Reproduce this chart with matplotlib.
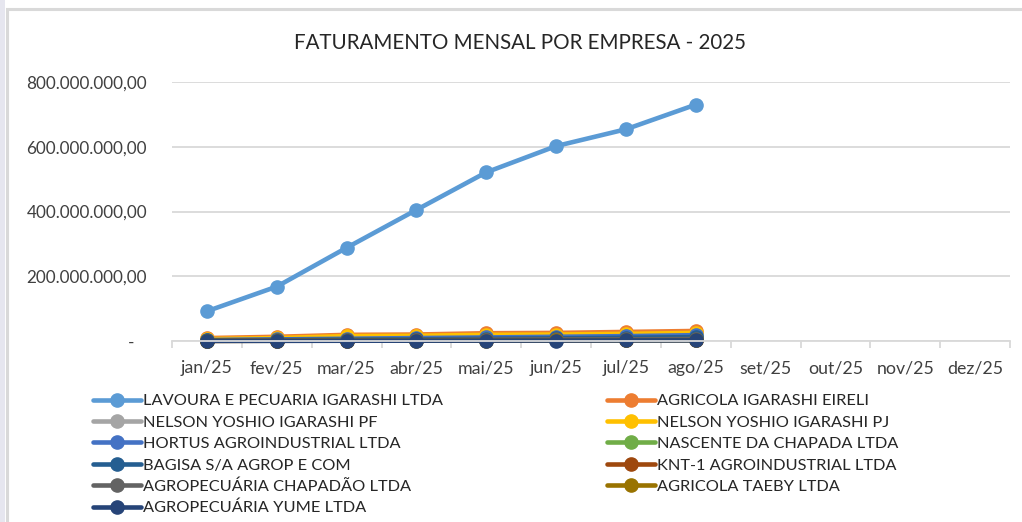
import numpy as np
import matplotlib.pyplot as plt
from matplotlib.patches import Rectangle
from matplotlib.ticker import FixedLocator, FuncFormatter

# Dados (em reais)
meses = ['jan/25', 'fev/25', 'mar/25', 'abr/25', 'mai/25', 'jun/25',
         'jul/25', 'ago/25', 'set/25', 'out/25', 'nov/25', 'dez/25']

empresas = ['LAVOURA E PECUARIA IGARASHI LTDA', 'AGRICOLA IGARASHI EIRELI',
            'NELSON YOSHIO IGARASHI PF', 'NELSON YOSHIO IGARASHI PJ',
            'HORTUS AGROINDUSTRIAL LTDA', 'NASCENTE DA CHAPADA LTDA',
            'BAGISA S/A AGROP E COM', 'KNT-1 AGROINDUSTRIAL LTDA',
            'AGROPECUÁRIA CHAPADÃO LTDA', 'AGRICOLA TAEBY LTDA',
            'AGROPECUÁRIA YUME LTDA']

lavoura = [92e6, 168e6, 288e6, 405e6, 521e6, 602e6, 654e6, 730e6]
agricola_eireli = [9e6, 13e6, 19e6, 20e6, 24e6, 25e6, 28e6, 31e6]
nelson_pf = [1.0e6, 1.5e6, 2.0e6, 2.0e6, 2.5e6, 2.5e6, 3.0e6, 3.0e6]
nelson_pj = [6e6, 9e6, 15e6, 16e6, 19e6, 20e6, 22e6, 25e6]
hortus = [3e6, 5e6, 7e6, 9e6, 11e6, 13e6, 15e6, 18e6]
nascente = [1e6, 2e6, 3e6, 4e6, 5e6, 6e6, 7e6, 8e6]
bagisa = [2e6, 3e6, 4e6, 5e6, 7e6, 8e6, 10e6, 12e6]
knt1 = [0.5e6, 1.0e6, 1.5e6, 2.0e6, 2.5e6, 3.0e6, 3.5e6, 4.0e6]
chapadao = [1e6, 2e6, 3e6, 3e6, 4e6, 5e6, 5e6, 6e6]
taeby = [0.5e6, 0.8e6, 1.0e6, 1.2e6, 1.5e6, 1.8e6, 2.0e6, 2.2e6]
yume = [0.3e6, 0.5e6, 0.8e6, 1.0e6, 1.2e6, 1.5e6, 1.8e6, 2.0e6]

series = [lavoura, agricola_eireli, nelson_pf, nelson_pj, hortus, nascente,
          bagisa, knt1, chapadao, taeby, yume]

cores = ['#5B9BD5', '#ED7D31', '#A5A5A5', '#FFC000', '#4472C4', '#70AD47',
         '#255E91', '#9E480E', '#636363', '#997300', '#264478']

yticks = [0, 200e6, 400e6, 600e6, 800e6]

plt.rcParams['font.family'] = ['Lato', 'DejaVu Sans']

fig = plt.figure(figsize=(10.22, 5.22), dpi=100)

# moldura da área do gráfico
fig.patches.append(Rectangle((0, 0), 5 / 1022, 1, transform=fig.transFigure,
                             facecolor='#e6e6ef', edgecolor='none', zorder=-2))
fig.patches.append(Rectangle((6.5 / 1022, -0.1), 1.2, (513.5 + 52.2) / 522,
                             transform=fig.transFigure, facecolor='white',
                             edgecolor='#d9d9d9', linewidth=2.2, zorder=-1))

ax = fig.add_axes([172 / 1022, 1 - 341 / 522, 838 / 1022, 259 / 522])
ax.set_facecolor('none')
ax.set_zorder(2)

x = np.arange(len(meses))
for nome, valores, cor in zip(empresas, series, cores):
    ax.plot(x[:len(valores)], valores, color=cor, linewidth=3.3,
            marker='o', markersize=9.5, label=nome, solid_capstyle='round',
            clip_on=False)

ax.set_xlim(-0.5, len(meses) - 0.5)
ax.set_ylim(0, 800e6)
ax.set_xticks(x)
ax.set_xticklabels(meses, fontsize=12.8, color='#404040')
ax.xaxis.set_minor_locator(FixedLocator(np.arange(-0.5, len(meses), 1.0)))
ax.tick_params(axis='x', which='major', length=0, pad=14)
ax.tick_params(axis='x', which='minor', length=5, color='#d9d9d9', width=1.3)

def fmt(v, pos):
    if v == 0:
        return '-   '
    s = f'{v:,.2f}'
    return s.replace(',', 'X').replace('.', ',').replace('X', '.')

ax.set_yticks(yticks)
ax.yaxis.set_major_formatter(FuncFormatter(fmt))
ax.tick_params(axis='y', length=0, pad=18, labelsize=12.3, labelcolor='#404040')
ax.grid(axis='y', color='#d9d9d9', linewidth=1.3)
ax.set_axisbelow(True)
for lado in ['left', 'right', 'top']:
    ax.spines[lado].set_visible(False)
ax.spines['bottom'].set_color('#d9d9d9')
ax.spines['bottom'].set_linewidth(1.3)

fig.text(520 / 1022, 1 - 43 / 522, 'FATURAMENTO MENSAL POR EMPRESA - 2025',
         ha='center', va='center', fontsize=14.8, color='#262626')

# legenda em duas colunas
handles, labels = ax.get_legend_handles_labels()
colunas = [([0, 2, 4, 6, 8, 10], 93), ([1, 3, 5, 7, 9], 607)]
for idx, xpos in colunas:
    leg = fig.legend([handles[i] for i in idx], [labels[i] for i in idx],
                     loc='upper left', bbox_to_anchor=(xpos / 1022, 1 - 394 / 522),
                     ncol=1, frameon=False, fontsize=11.8, handlelength=2.9,
                     handletextpad=0.15, labelspacing=0.42,
                     borderaxespad=0, borderpad=0, labelcolor='#262626')
    leg.set_zorder(3)

fig.savefig('out.png', dpi=100)
